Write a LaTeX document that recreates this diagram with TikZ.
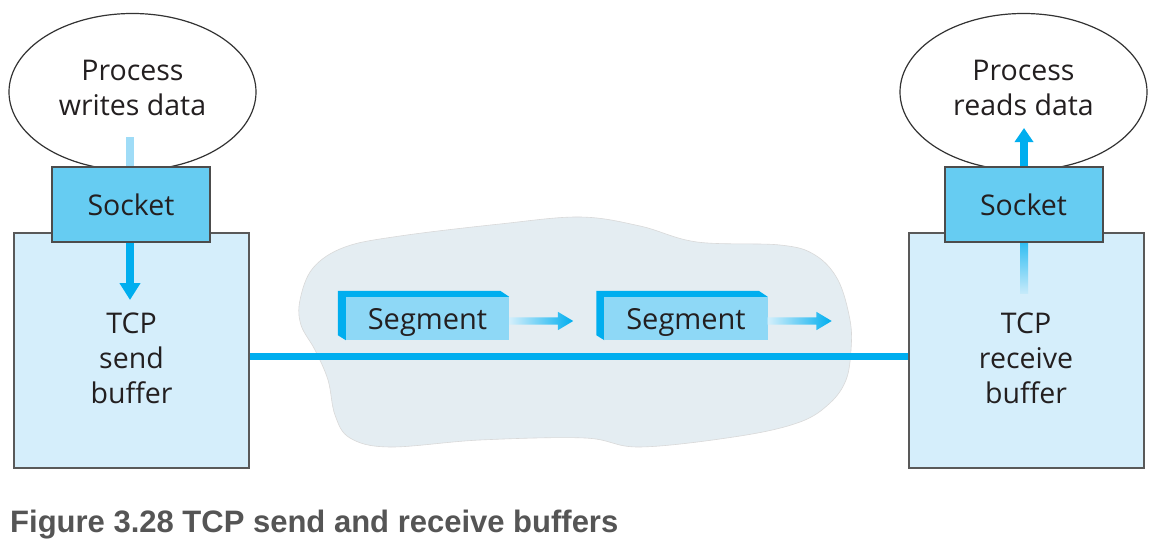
\documentclass[tikz,border=0pt]{standalone}
\usepackage{fontspec}
\setmainfont{Open Sans}
\newfontfamily\capfont{Liberation Sans}
\usetikzlibrary{shapes}
\usetikzlibrary{positioning}
\usetikzlibrary{arrows.meta}
\usetikzlibrary{calc}
\definecolor{tcpcyan}{RGB}{0,174,239}
\definecolor{tcplight}{RGB}{159,220,247}
\definecolor{sockblue}{RGB}{102,204,242}
\definecolor{bufblue}{RGB}{213,238,251}
\definecolor{segblue}{RGB}{142,216,246}
\definecolor{cloudgray}{RGB}{228,237,242}
\definecolor{txtdark}{RGB}{35,31,32}
\definecolor{capgray}{RGB}{85,85,85}
\tikzset{
    procnode/.style = {ellipse, draw=black!80, line width=1.2pt, fill=white, minimum width=247pt, minimum height=157pt, align=center, text depth=9pt, font=\fontsize{28.5}{35}\selectfont, text=txtdark},
    socknode/.style = {rectangle, draw=black!70, line width=2pt, fill=sockblue, minimum width=158pt, minimum height=75pt, inner sep=0pt, font=\fontsize{28.5}{35}\selectfont, text=txtdark},
    bufnode/.style = {rectangle, draw=black!65, line width=2pt, fill=bufblue, minimum width=235pt, minimum height=235pt},
    buftext/.style = {align=center, inner sep=0pt, font=\fontsize{28.5}{35}\selectfont, text=txtdark},
    segnode/.style = {rectangle, fill=segblue, minimum width=163pt, minimum height=43pt, inner sep=0pt, text height=28pt, text depth=7pt, font=\fontsize{29}{35}\selectfont, text=txtdark},
    segarrow/.style = {single arrow, draw=none, inner xsep=0pt, inner ysep=3.5pt, outer sep=0pt, minimum height=64pt, single arrow head extend=5.5pt, single arrow tip angle=62, left color=tcplight!45!white, middle color=tcpcyan, right color=tcpcyan},
    edgewire/.style = {-,line width=7pt,tcpcyan},
    edgeflow/.style = {-{Triangle[width=20pt,length=17pt]},line width=8pt,tcpcyan},
    edgefade/.style = {-,line width=8pt,tcplight},
    capnode/.style = {anchor=base west, inner sep=0pt, font=\capfont\bfseries\fontsize{31}{36}\selectfont, text=capgray}
}
% back faces of a segment
\newcommand{\SegBack}[1]{\fill[tcpcyan] ($(#1.north west)+(-8,-6)$) -- ($(#1.north east)+(-9,-6)$) -- (#1.north east) -- (#1.north west) -- (#1.south west) -- ($(#1.south west)+(-8,-5)$) -- cycle;}

\begin{document}
\begin{tikzpicture}[x=1pt,y=-1pt]
\useasboundingbox (0,0) rectangle (1152,551);
\fill[white] (0,0) rectangle (1152,551);

% network cloud
\filldraw[fill=cloudgray, draw=black!15, line width=0.6pt] plot[smooth cycle, tension=0.6] coordinates {
  (300,300) (313,268) (345,247) (400,236) (500,224) (580,217) (640,226) (697,242)
  (780,245) (815,255) (838,280) (850,320) (851,350) (846,380) (830,403) (800,422)
  (740,436) (640,447) (585,438) (480,440) (390,447) (350,438) (335,415) (328,380)
  (315,350) (301,325)};

\node[procnode] at (132.5, 92.0) (wproc) {Process\\writes data};
\node[procnode] at (1023.5, 92.0) (rproc) {Process\\reads data};
\node[bufnode] at (131.5, 350.5) (sbuf) {};
\node[bufnode] at (1026.0, 350.5) (rbuf) {};
\node[buftext] at ([yshift=-7.5pt]sbuf.center) (sbuftxt) {TCP\\send\\buffer};
\node[buftext] at ([yshift=-7.5pt]rbuf.center) (rbuftxt) {TCP\\receive\\buffer};

\coordinate (wtop) at (130.0, 137.0);
\coordinate (wtip) at (130.0, 300.0);
\coordinate (rbot) at (1024.0, 293.0);
\coordinate (rtip) at (1024.0, 128.0);

\node[socknode] at (131.0, 204.5) (wsock) {Socket};
\node[socknode] at (1023.5, 204.5) (rsock) {Socket};

\draw[edgefade] (wtop) -- (wtop |- wsock.north);
\shade[top color=tcpcyan!80!white, bottom color=tcplight!60!white] ([xshift=-4pt]rbot |- rsock.south) rectangle ([xshift=4pt]rbot);
\draw[edgeflow] (wtop |- wsock.south) -- (wtip);
\draw[edgeflow,-{Triangle[width=18pt,length=14pt]}] (rtip |- rsock.north) -- (rtip);

\draw[edgewire] ([yshift=-6pt]sbuf.east) -- ([yshift=-6pt]rbuf.west);

\node[segnode] at (427.5, 318.5) (seg1) {Segment};
\node[segnode] at (686.0, 318.5) (seg2) {Segment};
\SegBack{seg1}
\SegBack{seg2}
\node[segarrow, anchor=west] at ([yshift=-2.5pt]seg1.east) (arr1) {};
\node[segarrow, anchor=west] at ([yshift=-2.5pt]seg2.east) (arr2) {};

\node[capnode] at (10.0, 532.0) (cap) {Figure 3.28 TCP send and receive buffers};
\end{tikzpicture}
\end{document}
